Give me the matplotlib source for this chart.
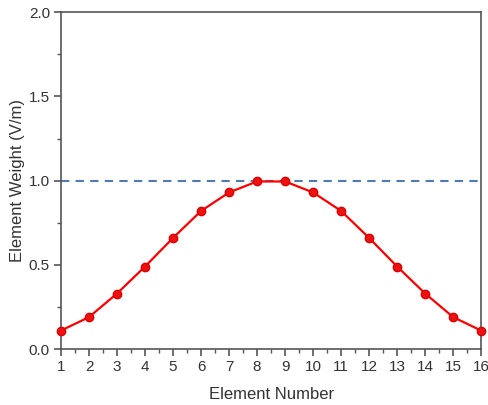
import matplotlib
matplotlib.use("Agg")
import matplotlib.pyplot as plt
from matplotlib.ticker import MultipleLocator

plt.rcParams['font.family'] = ['Liberation Sans', 'DejaVu Sans']

element_number = list(range(1, 17))
element_weight = [0.11, 0.19, 0.33, 0.49, 0.66, 0.82, 0.93, 0.995,
                  0.995, 0.93, 0.82, 0.66, 0.49, 0.33, 0.19, 0.11]
ref_level = 1.0

fig = plt.figure(figsize=(4.88, 4.05), dpi=100)
ax = fig.add_axes([0.125, 0.138, 0.861, 0.832])

ax.axhline(ref_level, color='#4f79b8', linestyle=(0, (4, 3)), linewidth=1.5, zorder=1)
ax.plot(element_number, element_weight, color='#ff0000', linewidth=1.6,
        marker='o', markersize=6, markerfacecolor='#ee1111',
        markeredgecolor='#dd0000', zorder=3, clip_on=False)

ax.set_xlim(1, 16)
ax.set_ylim(0, 2.0)
ax.xaxis.set_major_locator(MultipleLocator(1))
ax.xaxis.set_minor_locator(MultipleLocator(0.5))
ax.yaxis.set_major_locator(MultipleLocator(0.5))
ax.yaxis.set_minor_locator(MultipleLocator(0.25))
ax.yaxis.set_major_formatter(matplotlib.ticker.FormatStrFormatter('%.1f'))

spine_color = '#555555'
for s in ax.spines.values():
    s.set_color(spine_color)
    s.set_linewidth(1.2)
ax.tick_params(which='major', direction='out', length=5, width=1.2, color=spine_color,
               labelsize=11, labelcolor='#333333', pad=3)
ax.tick_params(which='minor', direction='out', length=3, width=1.0, color=spine_color)

ax.set_xlabel('Element Number', fontsize=12, color='#333333', labelpad=9)
ax.set_ylabel('Element Weight (V/m)', fontsize=12, color='#333333', labelpad=3)

fig.savefig('out.png', dpi=100)
